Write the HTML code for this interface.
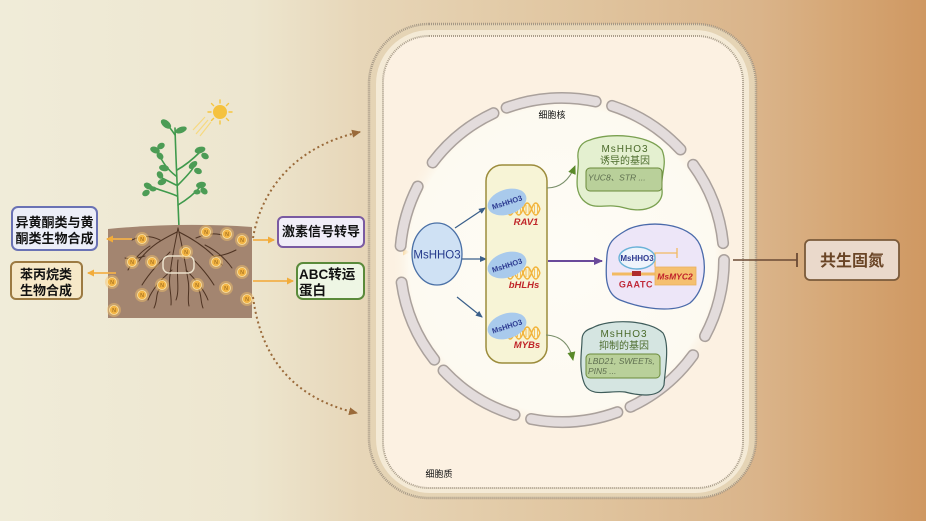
<!DOCTYPE html>
<html><head><meta charset="utf-8"><style>
html,body{margin:0;padding:0;width:926px;height:521px;overflow:hidden;}
svg{display:block;}
text{font-family:"Liberation Sans","Noto Sans CJK SC",sans-serif;}
</style></head><body>
<svg width="926" height="521" viewBox="0 0 926 521" xmlns="http://www.w3.org/2000/svg">
<defs>
<linearGradient id="bg" x1="0" y1="0" x2="1" y2="0">
<stop offset="0" stop-color="#f0ecd9"/>
<stop offset="0.27" stop-color="#ede6cf"/>
<stop offset="0.39" stop-color="#e7d6b8"/>
<stop offset="0.6" stop-color="#e1c7a2"/>
<stop offset="0.82" stop-color="#dab48a"/>
<stop offset="0.9" stop-color="#d6a877"/>
<stop offset="1" stop-color="#cf9862"/>
</linearGradient>
<radialGradient id="nuc" cx="0.5" cy="0.5" r="0.5">
<stop offset="0" stop-color="#fefcf6"/>
<stop offset="0.9" stop-color="#fdfaf1"/>
<stop offset="1" stop-color="#fcf2e3" stop-opacity="0"/>
</radialGradient>
<linearGradient id="ol" x1="0" y1="0" x2="1" y2="0">
<stop offset="0" stop-color="#f2ac3a" stop-opacity="0"/>
<stop offset="0.25" stop-color="#f2ac3a" stop-opacity="1"/>
<stop offset="1" stop-color="#f2ac3a"/>
</linearGradient>
<marker id="ao" markerWidth="8" markerHeight="8" refX="6" refY="4" orient="auto" markerUnits="userSpaceOnUse"><path d="M0,0.5 L7,4 L0,7.5 Z" fill="#f2ac3a"/></marker>
<marker id="ab" markerWidth="8" markerHeight="8" refX="6" refY="4" orient="auto" markerUnits="userSpaceOnUse"><path d="M0,1 L7,4 L0,7 Z" fill="#3a5f8a"/></marker>
<marker id="ap" markerWidth="10" markerHeight="10" refX="8" refY="5" orient="auto" markerUnits="userSpaceOnUse"><path d="M0,1 L9,5 L0,9 Z" fill="#6a4a9a"/></marker>
<marker id="ag" markerWidth="10" markerHeight="10" refX="8" refY="5" orient="auto" markerUnits="userSpaceOnUse"><path d="M0,1 L9,5 L0,9 Z" fill="#5a8a2a"/></marker>
<marker id="ad" markerWidth="10" markerHeight="10" refX="8" refY="5" orient="auto" markerUnits="userSpaceOnUse"><path d="M0,1 L9,5 L0,9 Z" fill="#9a6a3a"/></marker>
</defs>

<rect x="0" y="0" width="926" height="521" fill="url(#bg)"/>

<!-- Sun -->
<g stroke="#f6c640" stroke-width="1.4" stroke-linecap="round">
<line x1="220" y1="103" x2="220" y2="100"/><line x1="220" y1="121" x2="220" y2="124"/>
<line x1="211" y1="112" x2="208" y2="112"/><line x1="229" y1="112" x2="232" y2="112"/>
<line x1="213.6" y1="105.6" x2="211.5" y2="103.5"/><line x1="226.4" y1="118.4" x2="228.5" y2="120.5"/>
<line x1="226.4" y1="105.6" x2="228.5" y2="103.5"/><line x1="213.6" y1="118.4" x2="211.5" y2="120.5"/>
</g>
<circle cx="220" cy="112" r="7" fill="#f5c23e"/>
<g stroke="#f8d878" stroke-width="1.2" opacity="0.9">
<line x1="205" y1="117" x2="193" y2="130"/><line x1="208" y1="120" x2="196" y2="134"/><line x1="211" y1="122" x2="200" y2="136"/>
</g>

<!-- Plant -->
<g fill="none" stroke="#3f9a4c" stroke-width="1.6" stroke-linecap="round">
<path d="M179 228 C 178 200, 176 165, 175 128"/>
<path d="M176 176 C 168 170, 162 162, 158 152"/>
<path d="M177 196 C 168 192, 158 190, 150 186"/>
<path d="M176 185 C 170 182, 166 180, 162 178"/>
<path d="M177 170 C 186 165, 194 158, 200 152"/>
<path d="M178 185 C 185 178, 190 173, 193 168"/>
<path d="M178 205 C 188 199, 195 193, 200 187"/>
<path d="M175 135 C 172 130, 169 127, 167 124"/>
</g>
<g fill="#4c9c55">
<ellipse cx="166" cy="124" rx="6" ry="3.5" transform="rotate(40 166 124)"/>
<ellipse cx="181" cy="130" rx="6" ry="3" transform="rotate(-20 181 130)"/>
<ellipse cx="155" cy="150" rx="5" ry="3.2" transform="rotate(20 155 150)"/>
<ellipse cx="161" cy="146" rx="4" ry="3" transform="rotate(-30 161 146)"/>
<ellipse cx="160" cy="156" rx="4" ry="3" transform="rotate(50 160 156)"/>
<ellipse cx="164" cy="168" rx="5" ry="3.2" transform="rotate(10 164 168)"/>
<ellipse cx="160" cy="175" rx="4" ry="3" transform="rotate(60 160 175)"/>
<ellipse cx="162" cy="182" rx="4.5" ry="3" transform="rotate(-20 162 182)"/>
<ellipse cx="148" cy="186" rx="4.5" ry="3" transform="rotate(30 148 186)"/>
<ellipse cx="146" cy="193" rx="4" ry="3" transform="rotate(-30 146 193)"/>
<ellipse cx="153" cy="189" rx="3.5" ry="2.5"/>
<ellipse cx="200" cy="150" rx="5.5" ry="3.2" transform="rotate(-15 200 150)"/>
<ellipse cx="205" cy="156" rx="4" ry="3" transform="rotate(30 205 156)"/>
<ellipse cx="193" cy="165" rx="5" ry="3" transform="rotate(-40 193 165)"/>
<ellipse cx="198" cy="171" rx="4" ry="3" transform="rotate(20 198 171)"/>
<ellipse cx="201" cy="185" rx="5" ry="3.2" transform="rotate(-10 201 185)"/>
<ellipse cx="204" cy="191" rx="4" ry="3" transform="rotate(40 204 191)"/>
<ellipse cx="197" cy="192" rx="3.5" ry="2.5"/>
</g>

<!-- Soil -->
<path d="M108 229 Q 180 222 252 227 L 252 318 L 108 318 Z" fill="#a38570"/>
<g fill="none" stroke="#4e3322" stroke-width="1" stroke-linecap="round">
<path d="M178 228 C 176 240, 172 255, 170 275 C 168 285, 172 295, 171 305"/>
<path d="M178 228 C 182 245, 185 260, 188 280 C 190 290, 187 298, 189 306"/>
<path d="M177 232 C 165 238, 150 245, 138 262"/>
<path d="M179 232 C 195 240, 210 250, 222 265"/>
<path d="M160 240 C 150 235, 140 236, 132 240"/>
<path d="M196 238 C 205 234, 215 232, 225 236"/>
<path d="M170 252 C 160 262, 150 272, 142 285"/>
<path d="M186 252 C 196 262, 206 272, 214 285"/>
<path d="M150 246 C 140 252, 132 262, 128 270"/>
<path d="M205 245 C 215 250, 225 258, 232 268"/>
<path d="M172 270 C 160 280, 152 290, 148 300"/>
<path d="M186 270 C 198 282, 205 292, 208 300"/>
<path d="M178 260 C 176 275, 180 290, 176 300"/>
<path d="M145 256 C 138 258, 132 260, 125 258"/>
<path d="M215 256 C 222 256, 228 254, 236 250"/>
<path d="M160 288 C 155 295, 158 300, 154 308"/>
<path d="M198 288 C 202 295, 200 300, 203 308"/>
</g>
<rect x="163" y="256" width="31" height="17" rx="6" fill="none" stroke="#ece2cc" stroke-width="1.5"/>
<g font-size="5" text-anchor="middle" fill="#8a5a10">
<circle cx="142" cy="239" r="7" fill="#f7c46a" opacity="0.45"/><circle cx="142" cy="239" r="4.5" fill="#f3b444" stroke="#fde3a0" stroke-width="0.8"/><text x="142" y="241">N</text>
<circle cx="206" cy="232" r="7" fill="#f7c46a" opacity="0.45"/><circle cx="206" cy="232" r="4.5" fill="#f3b444" stroke="#fde3a0" stroke-width="0.8"/><text x="206" y="234">N</text>
<circle cx="227" cy="234" r="7" fill="#f7c46a" opacity="0.45"/><circle cx="227" cy="234" r="4.5" fill="#f3b444" stroke="#fde3a0" stroke-width="0.8"/><text x="227" y="236">N</text>
<circle cx="242" cy="240" r="7" fill="#f7c46a" opacity="0.45"/><circle cx="242" cy="240" r="4.5" fill="#f3b444" stroke="#fde3a0" stroke-width="0.8"/><text x="242" y="242">N</text>
<circle cx="132" cy="262" r="7" fill="#f7c46a" opacity="0.45"/><circle cx="132" cy="262" r="4.5" fill="#f3b444" stroke="#fde3a0" stroke-width="0.8"/><text x="132" y="264">N</text>
<circle cx="152" cy="262" r="7" fill="#f7c46a" opacity="0.45"/><circle cx="152" cy="262" r="4.5" fill="#f3b444" stroke="#fde3a0" stroke-width="0.8"/><text x="152" y="264">N</text>
<circle cx="186" cy="252" r="7" fill="#f7c46a" opacity="0.45"/><circle cx="186" cy="252" r="4.5" fill="#f3b444" stroke="#fde3a0" stroke-width="0.8"/><text x="186" y="254">N</text>
<circle cx="216" cy="262" r="7" fill="#f7c46a" opacity="0.45"/><circle cx="216" cy="262" r="4.5" fill="#f3b444" stroke="#fde3a0" stroke-width="0.8"/><text x="216" y="264">N</text>
<circle cx="242" cy="272" r="7" fill="#f7c46a" opacity="0.45"/><circle cx="242" cy="272" r="4.5" fill="#f3b444" stroke="#fde3a0" stroke-width="0.8"/><text x="242" y="274">N</text>
<circle cx="112" cy="282" r="7" fill="#f7c46a" opacity="0.45"/><circle cx="112" cy="282" r="4.5" fill="#f3b444" stroke="#fde3a0" stroke-width="0.8"/><text x="112" y="284">N</text>
<circle cx="162" cy="285" r="7" fill="#f7c46a" opacity="0.45"/><circle cx="162" cy="285" r="4.5" fill="#f3b444" stroke="#fde3a0" stroke-width="0.8"/><text x="162" y="287">N</text>
<circle cx="197" cy="285" r="7" fill="#f7c46a" opacity="0.45"/><circle cx="197" cy="285" r="4.5" fill="#f3b444" stroke="#fde3a0" stroke-width="0.8"/><text x="197" y="287">N</text>
<circle cx="226" cy="288" r="7" fill="#f7c46a" opacity="0.45"/><circle cx="226" cy="288" r="4.5" fill="#f3b444" stroke="#fde3a0" stroke-width="0.8"/><text x="226" y="290">N</text>
<circle cx="142" cy="295" r="7" fill="#f7c46a" opacity="0.45"/><circle cx="142" cy="295" r="4.5" fill="#f3b444" stroke="#fde3a0" stroke-width="0.8"/><text x="142" y="297">N</text>
<circle cx="247" cy="299" r="7" fill="#f7c46a" opacity="0.45"/><circle cx="247" cy="299" r="4.5" fill="#f3b444" stroke="#fde3a0" stroke-width="0.8"/><text x="247" y="301">N</text>
<circle cx="114" cy="310" r="7" fill="#f7c46a" opacity="0.45"/><circle cx="114" cy="310" r="4.5" fill="#f3b444" stroke="#fde3a0" stroke-width="0.8"/><text x="114" y="312">N</text>
</g>

<!-- Soil arrows -->
<g stroke="#f2b04a" stroke-width="1.8" fill="none">
<line x1="132" y1="239" x2="107" y2="239" marker-end="url(#ao)"/>
<line x1="116" y1="273" x2="88" y2="273" marker-end="url(#ao)"/>
<line x1="253" y1="240" x2="274" y2="240" marker-end="url(#ao)"/>
<line x1="253" y1="281" x2="293" y2="281" marker-end="url(#ao)"/>
</g>

<!-- Left boxes -->
<rect x="12" y="207" width="85" height="43" rx="6" fill="#eceef8" stroke="#6a72b4" stroke-width="2"/>
<text x="54.5" y="227" font-size="13" font-weight="bold" text-anchor="middle" fill="#111">异黄酮类与黄</text>
<text x="54.5" y="243" font-size="13" font-weight="bold" text-anchor="middle" fill="#111">酮类生物合成</text>
<rect x="11" y="262" width="71" height="37" rx="5" fill="#f6e8c8" stroke="#9c7a42" stroke-width="2"/>
<text x="46" y="279" font-size="13" font-weight="bold" text-anchor="middle" fill="#111">苯丙烷类</text>
<text x="46" y="295" font-size="13" font-weight="bold" text-anchor="middle" fill="#111">生物合成</text>

<!-- Right boxes -->
<rect x="278" y="217" width="86" height="30" rx="5" fill="#f1edf8" stroke="#7a5aa2" stroke-width="2"/>
<text x="321" y="236" font-size="13" font-weight="bold" text-anchor="middle" fill="#111">激素信号转导</text>
<rect x="297" y="263" width="67" height="36" rx="6" fill="#eef6e4" stroke="#5a8a3a" stroke-width="2"/>
<text x="299" y="279" font-size="13.5" font-weight="bold" fill="#111">ABC转运</text>
<text x="299" y="295" font-size="13.5" font-weight="bold" fill="#111">蛋白</text>

<!-- Dotted curves -->
<path d="M253 238 C 262 185, 300 145, 360 132" fill="none" stroke="#9a6a3a" stroke-width="2" stroke-dasharray="2 3" marker-end="url(#ad)"/>
<path d="M253 297 C 262 365, 300 400, 357 413" fill="none" stroke="#9a6a3a" stroke-width="2" stroke-dasharray="2 3" marker-end="url(#ad)"/>

<!-- Cell -->
<rect x="369" y="24" width="387" height="474" rx="60" fill="#e5d4b5" stroke="#a59886" stroke-width="2.5" stroke-dasharray="1 1"/>
<rect x="376" y="30" width="373" height="463" rx="54" fill="#f4ead6"/>
<rect x="383" y="36" width="360" height="452" rx="46" fill="#fcf1e2" stroke="#a99d8a" stroke-width="2" stroke-dasharray="1 1"/>

<!-- Orange input line -->
<line x1="285" y1="252" x2="409" y2="252" stroke="url(#ol)" stroke-width="2" marker-end="url(#ao)"/>

<!-- Nucleus -->
<circle cx="562" cy="260" r="170" fill="url(#nuc)"/>
<g fill="none" stroke="#aaa19c" stroke-width="12" stroke-linecap="round">
<path d="M506.6 107.7 A162 162 0 0 1 595.7 101.5"/>
<path d="M612.1 105.9 A162 162 0 0 1 680.5 149.5"/>
<path d="M693.1 164.8 A162 162 0 0 1 723.1 243.1"/>
<path d="M724 260 A162 162 0 0 1 705.0 336.1"/>
<path d="M693.1 355.2 A162 162 0 0 1 630.5 406.8"/>
<path d="M617.4 412.2 A162 162 0 0 1 531.1 419.0"/>
<path d="M514.6 414.9 A162 162 0 0 1 443.5 370.5"/>
<path d="M434.3 359.7 A162 162 0 0 1 401.6 282.5"/>
<path d="M400.6 245.9 A162 162 0 0 1 417.7 186.5"/>
<path d="M432.6 162.5 A162 162 0 0 1 493.5 113.2"/>
</g>
<g fill="none" stroke="#e3dcdc" stroke-width="9" stroke-linecap="round">
<path d="M506.6 107.7 A162 162 0 0 1 595.7 101.5"/>
<path d="M612.1 105.9 A162 162 0 0 1 680.5 149.5"/>
<path d="M693.1 164.8 A162 162 0 0 1 723.1 243.1"/>
<path d="M724 260 A162 162 0 0 1 705.0 336.1"/>
<path d="M693.1 355.2 A162 162 0 0 1 630.5 406.8"/>
<path d="M617.4 412.2 A162 162 0 0 1 531.1 419.0"/>
<path d="M514.6 414.9 A162 162 0 0 1 443.5 370.5"/>
<path d="M434.3 359.7 A162 162 0 0 1 401.6 282.5"/>
<path d="M400.6 245.9 A162 162 0 0 1 417.7 186.5"/>
<path d="M432.6 162.5 A162 162 0 0 1 493.5 113.2"/>
</g>
<text x="552" y="118" font-size="9" text-anchor="middle" fill="#111">细胞核</text>
<text x="439" y="477" font-size="9" text-anchor="middle" fill="#111">细胞质</text>

<!-- MsHHO3 circle -->
<ellipse cx="437" cy="254" rx="25" ry="31" fill="#cfe1f4" stroke="#4a70a6" stroke-width="1.3"/>
<text x="437" y="258.5" font-size="11.5" text-anchor="middle" fill="#263a8c">MsHHO3</text>

<!-- blue arrows -->
<g stroke="#3a5f8a" stroke-width="1.2" fill="none">
<line x1="455" y1="228" x2="485" y2="208" marker-end="url(#ab)"/>
<line x1="462" y1="259" x2="486" y2="259" marker-end="url(#ab)"/>
<line x1="457" y1="297" x2="482" y2="317" marker-end="url(#ab)"/>
</g>

<!-- Tall box -->
<rect x="486" y="165" width="61" height="198" rx="16" fill="#f7f4d6" stroke="#9c8c3c" stroke-width="1.5"/>

<!-- TF 1 -->
<g>
<g fill="none" stroke="#f2b33a" stroke-width="1.4">
<path d="M506 209 Q 510.25 197 514.5 209 T 523 209 T 531.5 209 T 540 209"/>
<path d="M506 209 Q 510.25 221 514.5 209 T 523 209 T 531.5 209 T 540 209"/>
</g>
<g stroke="#f2b33a" stroke-width="0.8"><line x1="509" y1="205" x2="509" y2="213"/><line x1="512" y1="205" x2="512" y2="213"/><line x1="517.5" y1="205" x2="517.5" y2="213"/><line x1="520.5" y1="205" x2="520.5" y2="213"/><line x1="526" y1="205" x2="526" y2="213"/><line x1="529" y1="205" x2="529" y2="213"/><line x1="534.5" y1="205" x2="534.5" y2="213"/><line x1="537.5" y1="205" x2="537.5" y2="213"/></g>
<ellipse cx="507" cy="202" rx="20" ry="12.5" transform="rotate(-18 507 202)" fill="#a9caec"/>
<text x="507" y="205" font-size="7.5" font-weight="bold" text-anchor="middle" fill="#2b3990" transform="rotate(-18 507 202)">MsHHO3</text>
<text x="526" y="225" font-size="9.5" font-style="italic" font-weight="bold" text-anchor="middle" fill="#c0262a">RAV1</text>
</g>
<!-- TF 2 -->
<g>
<g fill="none" stroke="#f2b33a" stroke-width="1.4">
<path d="M506 273 Q 510.25 261 514.5 273 T 523 273 T 531.5 273 T 540 273"/>
<path d="M506 273 Q 510.25 285 514.5 273 T 523 273 T 531.5 273 T 540 273"/>
</g>
<g stroke="#f2b33a" stroke-width="0.8"><line x1="509" y1="269" x2="509" y2="277"/><line x1="512" y1="269" x2="512" y2="277"/><line x1="517.5" y1="269" x2="517.5" y2="277"/><line x1="520.5" y1="269" x2="520.5" y2="277"/><line x1="526" y1="269" x2="526" y2="277"/><line x1="529" y1="269" x2="529" y2="277"/><line x1="534.5" y1="269" x2="534.5" y2="277"/><line x1="537.5" y1="269" x2="537.5" y2="277"/></g>
<ellipse cx="507" cy="265" rx="20" ry="12.5" transform="rotate(-18 507 265)" fill="#a9caec"/>
<text x="507" y="268" font-size="7.5" font-weight="bold" text-anchor="middle" fill="#2b3990" transform="rotate(-18 507 265)">MsHHO3</text>
<text x="524" y="288" font-size="9.5" font-style="italic" font-weight="bold" text-anchor="middle" fill="#c0262a">bHLHs</text>
</g>
<!-- TF 3 -->
<g>
<g fill="none" stroke="#f2b33a" stroke-width="1.4">
<path d="M506 333 Q 510.25 321 514.5 333 T 523 333 T 531.5 333 T 540 333"/>
<path d="M506 333 Q 510.25 345 514.5 333 T 523 333 T 531.5 333 T 540 333"/>
</g>
<g stroke="#f2b33a" stroke-width="0.8"><line x1="509" y1="329" x2="509" y2="337"/><line x1="512" y1="329" x2="512" y2="337"/><line x1="517.5" y1="329" x2="517.5" y2="337"/><line x1="520.5" y1="329" x2="520.5" y2="337"/><line x1="526" y1="329" x2="526" y2="337"/><line x1="529" y1="329" x2="529" y2="337"/><line x1="534.5" y1="329" x2="534.5" y2="337"/><line x1="537.5" y1="329" x2="537.5" y2="337"/></g>
<ellipse cx="507" cy="326" rx="20" ry="12.5" transform="rotate(-18 507 326)" fill="#a9caec"/>
<text x="507" y="329" font-size="7.5" font-weight="bold" text-anchor="middle" fill="#2b3990" transform="rotate(-18 507 326)">MsHHO3</text>
<text x="527" y="348" font-size="9.5" font-style="italic" font-weight="bold" text-anchor="middle" fill="#c0262a">MYBs</text>
</g>

<!-- Green / purple arrows -->
<path d="M547 188 Q 566 188 575 166" fill="none" stroke="#7a8f6a" stroke-width="1" marker-end="url(#ag)"/>
<line x1="548" y1="261" x2="602" y2="261" stroke="#6a4a9a" stroke-width="2" marker-end="url(#ap)"/>
<path d="M546 335 Q 568 336 573 360" fill="none" stroke="#7a8f6a" stroke-width="1" marker-end="url(#ag)"/>

<!-- Induced blob -->
<path d="M590 140 C 610 132, 650 135, 662 150 C 668 165, 660 175, 662 190 C 664 205, 645 214, 625 208 C 605 202, 595 212, 583 200 C 572 188, 580 170, 578 158 C 577 148, 582 142, 590 140 Z" fill="#e4f0d0" stroke="#7aa050" stroke-width="1.3"/>
<text x="625" y="152" font-size="10" text-anchor="middle" fill="#4a6a2a" letter-spacing="1">MsHHO3</text>
<text x="625" y="164" font-size="10" text-anchor="middle" fill="#4a6a2a">诱导的基因</text>
<rect x="586" y="168" width="76" height="23" rx="4" fill="#b9d09a" stroke="#6a8a3a" stroke-width="1"/>
<text x="588" y="180.5" font-size="8.5" font-style="italic" fill="#5f6f50">YUC8、STR ...</text>

<!-- MYC2 blob -->
<path d="M625 231 C 645 219, 690 222, 700 245 C 708 265, 705 290, 690 303 C 672 314, 640 308, 620 300 C 603 293, 606 270, 607 255 C 608 243, 613 238, 625 231 Z" fill="#ede6f8" stroke="#4a6aaa" stroke-width="1.3"/>
<line x1="612" y1="274" x2="657" y2="274" stroke="#f2ba62" stroke-width="3"/>
<rect x="632" y="271" width="9" height="5" fill="#b02c2c"/>
<rect x="655" y="267" width="41" height="18" fill="#f5c070" stroke="#eab060" stroke-width="0.8"/>
<text x="675" y="279.5" font-size="8.5" font-style="italic" font-weight="bold" text-anchor="middle" fill="#c0202a">MsMYC2</text>
<path d="M655 267 V 253 H 677" fill="none" stroke="#f2ba62" stroke-width="1.3"/>
<line x1="677" y1="248" x2="677" y2="258" stroke="#f2ba62" stroke-width="1.3"/>
<ellipse cx="637" cy="258" rx="18" ry="11" fill="#eef4fb" stroke="#6ab2d8" stroke-width="1.4"/>
<text x="637" y="261" font-size="8" font-weight="bold" text-anchor="middle" fill="#2b3990">MsHHO3</text>
<text x="636" y="287.5" font-size="9" font-weight="bold" text-anchor="middle" fill="#c02a3a" letter-spacing="0.6">GAATC</text>

<!-- Repressed blob -->
<path d="M592 328 C 610 318, 650 320, 663 333 C 670 345, 665 370, 664 385 C 660 398, 640 396, 625 392 C 610 390, 592 398, 585 385 C 578 370, 582 350, 582 340 C 582 333, 586 330, 592 328 Z" fill="#d5e5e1" stroke="#3f5c5a" stroke-width="1.2"/>
<text x="624" y="337" font-size="10" text-anchor="middle" fill="#4a6a2a" letter-spacing="1">MsHHO3</text>
<text x="624" y="349" font-size="10" text-anchor="middle" fill="#4a6a2a">抑制的基因</text>
<rect x="586" y="354" width="74" height="24" rx="4" fill="#b9d09a" stroke="#6a8a3a" stroke-width="1"/>
<text x="588" y="364" font-size="8.5" font-style="italic" fill="#5f6f50">LBD21, SWEETs,</text>
<text x="588" y="374" font-size="8.5" font-style="italic" fill="#5f6f50">PIN5 ...</text>

<!-- Inhibit to symbiotic N fixation -->
<line x1="733" y1="260" x2="797" y2="260" stroke="#6b4a35" stroke-width="1.6"/>
<line x1="797" y1="253" x2="797" y2="267" stroke="#6b4a35" stroke-width="1.8"/>
<rect x="805" y="240" width="94" height="40" rx="5" fill="#ead9cb" stroke="#7a5a3a" stroke-width="1.8"/>
<text x="852" y="266" font-size="16" font-weight="bold" text-anchor="middle" fill="#6a4526">共生固氮</text>
</svg>
</body></html>
